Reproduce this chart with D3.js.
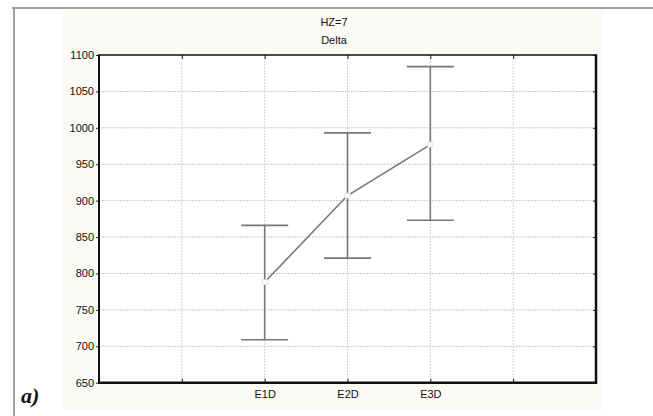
<!DOCTYPE html>
<html><head><meta charset="utf-8">
<script src="https://cdn.jsdelivr.net/npm/d3@7"></script>
<style>
body{margin:0;background:#fff;}
svg{display:block;}
</style></head>
<body><svg id="c" width="653" height="416"></svg>
<script>
const categories = ["E1D","E2D","E3D"];
const catPos = [2,3,4];
const means = [788, 907, 977];
const lower = [709, 821, 873];
const upper = [866, 993, 1084];
const yTicks = [650,700,750,800,850,900,950,1000,1050,1100];
const xGridPos = [1,2,3,4,5];
const titleLines = ["HZ=7","Delta"];

const SANS = "'Liberation Sans', Arial, sans-serif";
const svg = d3.select("#c");
svg.append("rect").attr("x",63).attr("y",9).attr("width",540).attr("height",401).attr("fill","#fbfaf4");
svg.append("line").attr("x1",12).attr("x2",653).attr("y1",8).attr("y2",8).attr("stroke","#a0a0a0").attr("stroke-width",2);
svg.append("line").attr("x1",14).attr("x2",14).attr("y1",7).attr("y2",416).attr("stroke","#a0a0a0").attr("stroke-width",2);

const L=99, R=596, T=55, B=382.7;
const x = d3.scaleLinear().domain([0,6]).range([L,R]);
const y = d3.scaleLinear().domain([650,1100]).range([B,T]);

svg.append("rect").attr("x",L).attr("y",T).attr("width",R-L).attr("height",B-T).attr("fill","#fff");

// grid
svg.append("g").selectAll("line").data(yTicks.filter(v=>v>650&&v<1100)).join("line")
  .attr("x1",L).attr("x2",R).attr("y1",d=>y(d)).attr("y2",d=>y(d))
  .attr("stroke","#c8c8c8").attr("stroke-width",1).attr("stroke-dasharray","2,1");
svg.append("g").selectAll("line").data(xGridPos).join("line")
  .attr("x1",d=>x(d)).attr("x2",d=>x(d)).attr("y1",T).attr("y2",B)
  .attr("stroke","#d2d2d2").attr("stroke-width",1).attr("stroke-dasharray","2,1");

// axes
const yAxis = d3.axisLeft(y).tickValues(yTicks).tickSize(3).tickPadding(2).tickFormat(d3.format("d"));
const gy = svg.append("g").attr("transform",`translate(${L},0)`).call(yAxis);
gy.select(".domain").remove();
gy.selectAll("text").style("font-size","11px").attr("fill","#111").style("font-family",SANS);
gy.selectAll(".tick line").attr("stroke","#222");

const gyR = svg.append("g").attr("transform",`translate(${R},0)`).call(d3.axisLeft(y).tickValues(yTicks).tickSize(3).tickFormat(""));
gyR.select(".domain").remove();
gyR.selectAll(".tick line").attr("stroke","#222");

const xAxis = d3.axisBottom(x).tickValues(xGridPos).tickSize(-4)
  .tickFormat(d=>{const i=catPos.indexOf(d);return i>=0?categories[i]:"";}).tickPadding(8);
const gx = svg.append("g").attr("transform",`translate(0,${B})`).call(xAxis);
gx.select(".domain").remove();
gx.selectAll("text").style("font-size","11px").attr("fill","#111").style("font-family",SANS);
gx.selectAll(".tick line").attr("stroke","#222");
const gxT = svg.append("g").attr("transform",`translate(0,${T})`).call(d3.axisBottom(x).tickValues(xGridPos).tickSize(4).tickFormat(""));
gxT.select(".domain").remove();
gxT.selectAll(".tick line").attr("stroke","#222");

// frame
svg.append("line").attr("x1",L-1).attr("x2",R+1).attr("y1",T).attr("y2",T).attr("stroke","#111").attr("stroke-width",1.5);
svg.append("line").attr("x1",L).attr("x2",L).attr("y1",T).attr("y2",B+1).attr("stroke","#111").attr("stroke-width",2);
svg.append("line").attr("x1",R).attr("x2",R).attr("y1",T-0.5).attr("y2",B+1.3).attr("stroke","#111").attr("stroke-width",2.5);
svg.append("line").attr("x1",L-1).attr("x2",R+1).attr("y1",B).attr("y2",B).attr("stroke","#111").attr("stroke-width",2.5);

// error bars
const data = categories.map((c,i)=>({c,p:catPos[i],m:means[i],lo:lower[i],hi:upper[i]}));
const eb = svg.append("g").attr("stroke","#777").attr("stroke-width",1.6).attr("fill","none");
eb.selectAll(".v").data(data).join("line").attr("x1",d=>x(d.p)).attr("x2",d=>x(d.p)).attr("y1",d=>y(d.lo)).attr("y2",d=>y(d.hi));
eb.selectAll(".cu").data(data).join("line").attr("x1",d=>x(d.p)-23.5).attr("x2",d=>x(d.p)+23.5).attr("y1",d=>y(d.hi)).attr("y2",d=>y(d.hi));
eb.selectAll(".cl").data(data).join("line").attr("x1",d=>x(d.p)-23.5).attr("x2",d=>x(d.p)+23.5).attr("y1",d=>y(d.lo)).attr("y2",d=>y(d.lo));

svg.append("path").datum(data).attr("fill","none").attr("stroke","#777").attr("stroke-width",1.6)
  .attr("d",d3.line().x(d=>x(d.p)).y(d=>y(d.m)));
svg.append("g").selectAll("rect").data(data).join("rect")
  .attr("x",d=>x(d.p)-2.5).attr("y",d=>y(d.m)-2.5).attr("width",5).attr("height",5)
  .attr("fill","#fff").attr("stroke","#ddd").attr("stroke-width",0.8);

// titles
svg.append("g").selectAll("text").data(titleLines).join("text")
  .attr("x",334).attr("y",(d,i)=>26+i*18).attr("text-anchor","middle")
  .style("font-size","11px").style("font-family",SANS).attr("fill","#111").text(d=>d);

svg.append("text").attr("x",21).attr("y",403)
  .style("font-family","'Liberation Serif', 'Times New Roman', serif")
  .style("font-weight","bold").style("font-style","italic").style("font-size","22px").attr("fill","#111").text("a)");
</script></body></html>
